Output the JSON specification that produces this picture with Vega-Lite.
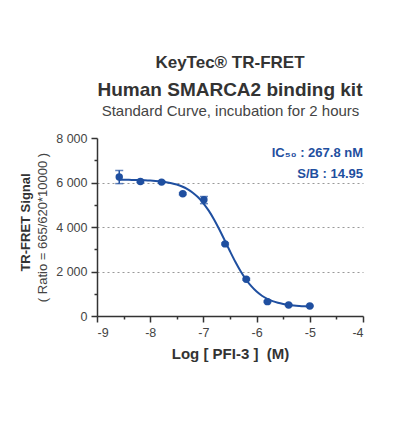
{
  "$schema": "https://vega.github.io/schema/vega-lite/v6.json",
  "width": 266,
  "height": 178,
  "padding": {"left": 19, "top": 54, "right": 10, "bottom": 10},
  "background": "white",
  "config": {
    "view": {"stroke": null},
    "font": "Liberation Sans",
    "axis": {
      "labelFont": "Liberation Sans",
      "titleFont": "Liberation Sans",
      "domainColor": "#333333",
      "domainWidth": 1.5,
      "tickColor": "#333333",
      "tickWidth": 1.5,
      "labelColor": "#444444",
      "labelFontSize": 12.5,
      "titleColor": "#333333"
    }
  },
  "title": {
    "text": "KeyTec® TR-FRET",
    "subtitle": "Human SMARCA2 binding kit",
    "font": "Liberation Sans",
    "fontSize": 17,
    "fontWeight": "bold",
    "color": "#333333",
    "subtitleFont": "Liberation Sans",
    "subtitleFontSize": 19,
    "subtitleFontWeight": "bold",
    "subtitleColor": "#333333",
    "subtitlePadding": 9,
    "anchor": "middle",
    "frame": "group",
    "offset": 2
  },
  "datasets": {
    "pts": [
      {"logc": -8.582, "signal": 6244, "lo": 5950, "hi": 6540},
      {"logc": -8.184, "signal": 6047, "lo": 6000, "hi": 6090},
      {"logc": -7.786, "signal": 6018, "lo": 5980, "hi": 6060},
      {"logc": -7.388, "signal": 5492, "lo": 5450, "hi": 5530},
      {"logc": -6.990, "signal": 5222, "lo": 5050, "hi": 5370},
      {"logc": -6.592, "signal": 3241, "lo": 3200, "hi": 3280},
      {"logc": -6.194, "signal": 1651, "lo": 1610, "hi": 1690},
      {"logc": -5.796, "signal": 645, "lo": 610, "hi": 680},
      {"logc": -5.398, "signal": 495, "lo": 465, "hi": 525},
      {"logc": -5.000, "signal": 450, "lo": 420, "hi": 480}
    ],
    "curve": [
      {"logc": -8.582, "fit": 6125},
      {"logc": -8.5, "fit": 6123},
      {"logc": -8.4, "fit": 6120},
      {"logc": -8.3, "fit": 6115},
      {"logc": -8.2, "fit": 6109},
      {"logc": -8.1, "fit": 6101},
      {"logc": -8.0, "fit": 6089},
      {"logc": -7.9, "fit": 6072},
      {"logc": -7.8, "fit": 6049},
      {"logc": -7.7, "fit": 6016},
      {"logc": -7.6, "fit": 5970},
      {"logc": -7.5, "fit": 5907},
      {"logc": -7.4, "fit": 5819},
      {"logc": -7.3, "fit": 5701},
      {"logc": -7.2, "fit": 5542},
      {"logc": -7.1, "fit": 5334},
      {"logc": -7.0, "fit": 5066},
      {"logc": -6.9, "fit": 4734},
      {"logc": -6.8, "fit": 4338},
      {"logc": -6.7, "fit": 3888},
      {"logc": -6.6, "fit": 3404},
      {"logc": -6.5, "fit": 2911},
      {"logc": -6.4, "fit": 2438},
      {"logc": -6.3, "fit": 2010},
      {"logc": -6.2, "fit": 1642},
      {"logc": -6.1, "fit": 1339},
      {"logc": -6.0, "fit": 1098},
      {"logc": -5.9, "fit": 912},
      {"logc": -5.8, "fit": 772},
      {"logc": -5.7, "fit": 669},
      {"logc": -5.6, "fit": 593},
      {"logc": -5.5, "fit": 538},
      {"logc": -5.4, "fit": 498},
      {"logc": -5.3, "fit": 470},
      {"logc": -5.2, "fit": 450},
      {"logc": -5.1, "fit": 435},
      {"logc": -5.0, "fit": 425}
    ],
    "notes": [
      {"logc": -4.0, "signal": 7338, "label": "IC₅₀ : 267.8 nM"},
      {"logc": -4.0, "signal": 6379, "label": "S/B : 14.95"}
    ]
  },
  "resolve": {"axis": {"x": "independent", "y": "independent"}},
  "layer": [
    {
      "data": {"name": "curve"},
      "mark": {"type": "line", "color": "#1f4fa0", "strokeWidth": 2, "interpolate": "monotone"},
      "encoding": {
        "x": {
          "field": "logc", "type": "quantitative",
          "scale": {"domain": [-9, -4], "nice": false, "zero": false},
          "axis": {
            "orient": "bottom",
            "values": [-9, -8.5, -8, -7.5, -7, -6.5, -6, -5.5, -5, -4.5, -4],
            "labelExpr": "datum.value % 1 == 0 ? '' + datum.value : ''",
            "tickSize": {"condition": {"test": "datum.value % 1 != 0", "value": 3}, "value": 6},
            "labelPadding": 4,
            "grid": false,
            "title": "Log [ PFI-3 ] \u00a0(M)",
            "titleFontSize": 15,
            "titleFontWeight": "bold",
            "titlePadding": 8
          }
        },
        "y": {
          "field": "fit", "type": "quantitative",
          "scale": {"domain": [0, 8000], "nice": false},
          "axis": {
            "orient": "left",
            "values": [0, 1000, 2000, 3000, 4000, 5000, 6000, 7000, 8000],
            "labelExpr": "datum.value % 2000 == 0 ? replace(format(datum.value, ','), ',', ' ') : ''",
            "tickSize": {"condition": {"test": "datum.value % 2000 != 0", "value": 3}, "value": 6},
            "labelPadding": 4,
            "grid": true,
            "gridColor": "#999999",
            "gridDash": [2, 3],
            "gridWidth": 1,
            "gridOpacity": {"condition": {"test": "datum.value % 2000 != 0 || datum.value == 0 || datum.value == 8000", "value": 0}, "value": 1},
            "title": "( Ratio = 665/620*10000 )",
            "titleFontSize": 13,
            "titleFontWeight": "normal",
            "titleColor": "#444444",
            "titlePadding": 6
          }
        }
      }
    },
    {
      "data": {"name": "pts"},
      "mark": {"type": "errorbar", "color": "#1f4fa0", "thickness": 1.5, "ticks": {"size": 8, "thickness": 1.5}},
      "encoding": {
        "x": {"field": "logc", "type": "quantitative", "scale": {"domain": [-9, -4], "nice": false, "zero": false}, "axis": null},
        "y": {"field": "lo", "type": "quantitative", "scale": {"domain": [0, 8000], "nice": false}, "axis": null},
        "y2": {"field": "hi"}
      }
    },
    {
      "data": {"name": "pts"},
      "mark": {"type": "point", "filled": true, "opacity": 1, "color": "#1f4fa0", "size": 55},
      "encoding": {
        "x": {
          "field": "logc", "type": "quantitative",
          "scale": {"domain": [-9, -4], "nice": false, "zero": false},
          "axis": {
            "orient": "top",
            "domain": false, "ticks": false, "labels": false, "grid": false,
            "title": "Standard Curve, incubation for 2 hours",
            "titleFontSize": 15,
            "titleFontWeight": "normal",
            "titleColor": "#444444",
            "titlePadding": 20
          }
        },
        "y": {
          "field": "signal", "type": "quantitative",
          "scale": {"domain": [0, 8000], "nice": false},
          "axis": {
            "orient": "left",
            "domain": false, "ticks": false, "labels": false, "grid": false,
            "title": "TR-FRET Signal",
            "titleFontSize": 13,
            "titleFontWeight": "bold",
            "titleColor": "#333333",
            "titlePadding": 65,
            "titleY": 84
          }
        }
      }
    },
    {
      "data": {"name": "notes"},
      "mark": {"type": "text", "align": "right", "baseline": "middle", "color": "#1f4fa0", "fontWeight": "bold", "fontSize": 13, "font": "Liberation Sans"},
      "encoding": {
        "x": {"field": "logc", "type": "quantitative", "scale": {"domain": [-9, -4], "nice": false, "zero": false}, "axis": null},
        "y": {"field": "signal", "type": "quantitative", "scale": {"domain": [0, 8000], "nice": false}, "axis": null},
        "text": {"field": "label"}
      }
    }
  ]
}
